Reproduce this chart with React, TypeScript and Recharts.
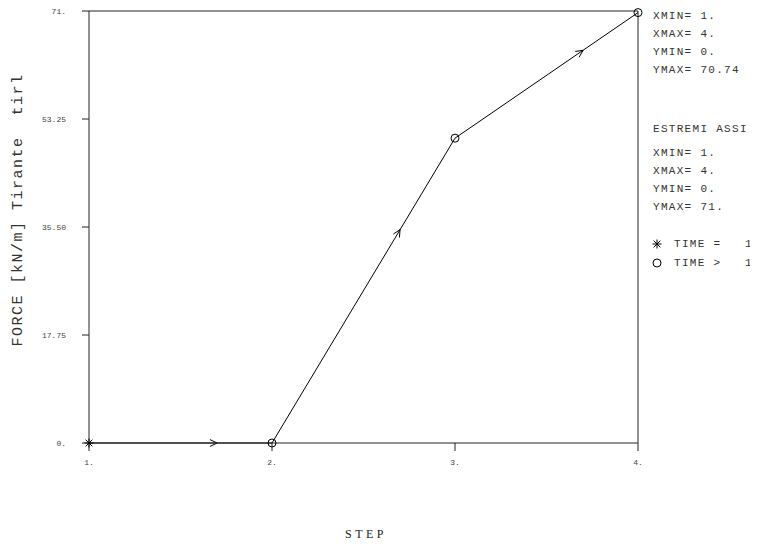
import React from "react";
import { LineChart, Line, XAxis, YAxis, ReferenceLine } from "recharts";

const steps = [1, 2, 3, 4];
const force = [0, 0, 50.1, 70.74];
const timeStep = [1, 2, 3, 4];

const xTicks = [1, 2, 3, 4];
const xTickLabels = ["1.", "2.", "3.", "4."];
const yTicks = [0, 17.75, 35.5, 53.25, 71];
const yTickLabels = ["0.", "17.75", "35.50", "53.25", "71."];

const dataRange = ["XMIN= 1.", "XMAX= 4.", "YMIN= 0.", "YMAX= 70.74"];
const axisRange = ["XMIN= 1.", "XMAX= 4.", "YMIN= 0.", "YMAX= 71."];
const legendLabels = ["TIME =   1", "TIME >   1"];

const data = steps.map((s, i) => ({ step: s, force: force[i], time: timeStep[i] }));
const segments = steps.slice(1).map((s, i) => [
  { x: steps[i], y: force[i] },
  { x: s, y: force[i + 1] },
]);

const W = 750;
const H = 536;
const mono = "'Liberation Mono', 'DejaVu Sans Mono', monospace";
const frame = "#222";

function Asterisk({ cx, cy, r = 4.5 }: { cx: number; cy: number; r?: number }) {
  const d = r * 0.75;
  return (
    <g stroke="#000" strokeWidth={1}>
      <line x1={cx} y1={cy - r} x2={cx} y2={cy + r} />
      <line x1={cx - r} y1={cy} x2={cx + r} y2={cy} />
      <line x1={cx - d} y1={cy - d} x2={cx + d} y2={cy + d} />
      <line x1={cx - d} y1={cy + d} x2={cx + d} y2={cy - d} />
    </g>
  );
}

function renderDot(props: any) {
  const { cx, cy, index, payload } = props;
  if (payload.time === 1) return <Asterisk key={index} cx={cx} cy={cy} />;
  return <circle key={index} cx={cx} cy={cy} r={4} fill="none" stroke="#000" strokeWidth={1} />;
}

// arrow head at 70% of each segment
function ArrowShape(props: any) {
  const { x1, y1, x2, y2 } = props;
  const t = 0.7;
  const tx = x1 + (x2 - x1) * t;
  const ty = y1 + (y2 - y1) * t;
  const ang = Math.atan2(y2 - y1, x2 - x1);
  const len = 8;
  const spread = 0.45;
  const a1 = ang + Math.PI - spread;
  const a2 = ang + Math.PI + spread;
  return (
    <path
      d={`M${tx + Math.cos(a1) * len},${ty + Math.sin(a1) * len}L${tx},${ty}L${tx + Math.cos(a2) * len},${ty + Math.sin(a2) * len}`}
      fill="none"
      stroke="#000"
      strokeWidth={1}
    />
  );
}

function XTick(props: any) {
  const { x, y, index } = props;
  return (
    <text x={x} y={y} dy={12} textAnchor="middle" fontFamily={mono} fontSize={8} fill="#444">
      {xTickLabels[index]}
    </text>
  );
}

function YTick(props: any) {
  const { x, y, index } = props;
  return (
    <text x={x} y={y} dx={-14} dy={3} textAnchor="end" fontFamily={mono} fontSize={8} fill="#444">
      {yTickLabels[index]}
    </text>
  );
}

export default function App() {
  const rows = [...dataRange.map((t, i) => ({ t, y: 11 + i * 18 })), { t: "ESTREMI ASSI", y: 124 }, ...axisRange.map((t, i) => ({ t, y: 148 + i * 18 }))];
  return (
    <div style={{ position: "relative", width: W, height: H }}>
      <LineChart width={W} height={H} data={data} margin={{ top: 3, right: 120, bottom: 0, left: 0 }}>
        <XAxis
          dataKey="step"
          type="number"
          domain={[1, 4]}
          ticks={xTicks}
          height={101}
          tickSize={8}
          stroke={frame}
          tick={<XTick />}
          interval={0}
        />
        <YAxis
          type="number"
          domain={[0, 71]}
          ticks={yTicks}
          width={81}
          tickSize={7}
          stroke={frame}
          tick={<YTick />}
          interval={0}
        />
        <ReferenceLine y={71} stroke={frame} />
        <ReferenceLine x={4} stroke={frame} />
        {segments.map((seg, i) => (
          <ReferenceLine key={i} segment={seg} shape={ArrowShape} />
        ))}
        <Line
          type="linear"
          dataKey="force"
          stroke="#000"
          strokeWidth={1}
          dot={renderDot}
          activeDot={false}
          isAnimationActive={false}
        />
      </LineChart>
      <svg width={W} height={H} overflow="visible" style={{ position: "absolute", left: 0, top: 0, pointerEvents: "none", overflow: "visible" }}>
        <text
          x={10.5}
          y={202}
          transform="rotate(-90 10.5 202)"
          textAnchor="middle"
          dominantBaseline="central"
          fontFamily={mono}
          fontSize={15}
          letterSpacing={1.5}
          fill="#333"
          style={{ whiteSpace: "pre" }}
        >
          FORCE [kN/m] Tirante  tirl
        </text>
        <text x={358} y={530} textAnchor="middle" fontFamily="'Liberation Serif', serif" fontSize={12} letterSpacing={3.5} fill="#222">
          STEP
        </text>
        {rows.map((r, i) => (
          <text key={i} x={645} y={r.y} fontFamily={mono} fontSize={11} letterSpacing={1.3} fill="#333" style={{ whiteSpace: "pre" }}>
            {r.t}
          </text>
        ))}
        <Asterisk cx={649} cy={236} r={4.5} />
        <circle cx={649} cy={255} r={4} fill="none" stroke="#000" strokeWidth={1} />
        {legendLabels.map((t, i) => (
          <text key={i} x={666} y={239 + i * 19} fontFamily={mono} fontSize={11} letterSpacing={1.3} fill="#333" style={{ whiteSpace: "pre" }}>
            {t}
          </text>
        ))}
      </svg>
    </div>
  );
}
